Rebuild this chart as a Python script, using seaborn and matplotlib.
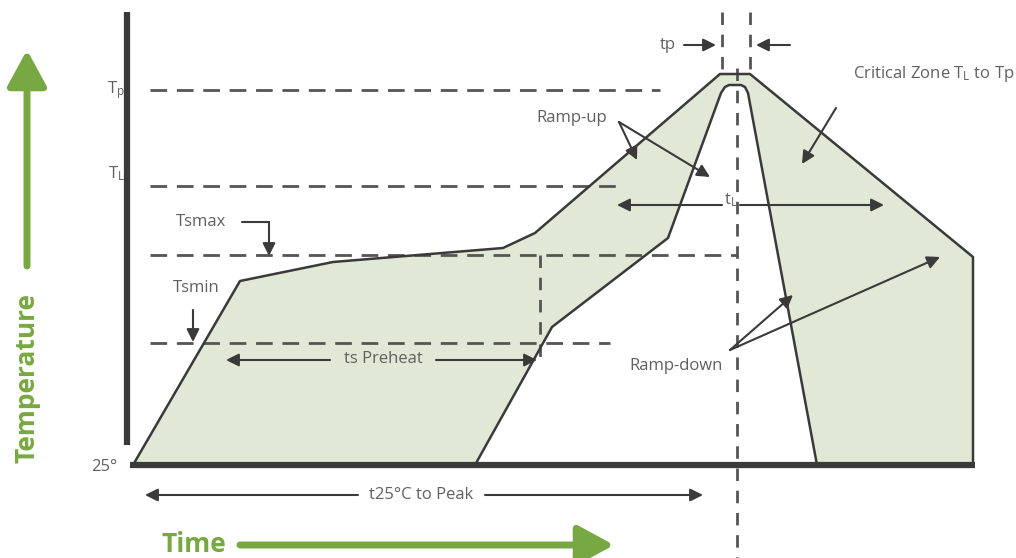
import matplotlib
matplotlib.use("Agg")
import matplotlib.pyplot as plt
import seaborn as sns

# reflow profile (time / temperature in drawing units)
outer_time = [133, 240, 333, 503, 535, 720, 750, 973, 973]
outer_temp = [93, 277, 296, 310, 325, 484, 484, 301, 93]
inner_time = [475, 552, 668, 721, 725, 729, 741, 745, 748, 817]
inner_temp = [93, 231, 320, 465, 471, 473, 473, 471, 465, 93]

# temperature levels
T_25 = 93
T_smin = 215
T_smax = 303
T_L = 372
T_p = 468

# time marks
t_preheat_end = 540
t_peak = 737
tp_left, tp_right = 722, 750

green = "#78a841"
fill_col = "#e1e8d6"
dark = "#3a3a3a"
dash_col = "#555555"
txt = "#606060"

sns.set_theme(style="white")
plt.rcParams["font.family"] = ["Open Sans", "DejaVu Sans"]

fig = plt.figure(figsize=(10.16, 5.58), dpi=100)
ax = fig.add_axes([0, 0, 1, 1])
ax.set_xlim(0, 1016)
ax.set_ylim(0, 558)
ax.set_axis_off()

# shaded zone
ax.fill(outer_time, outer_temp, color=fill_col, zorder=1)
ax.fill(inner_time, inner_temp, color="white", zorder=2)

sns.lineplot(x=outer_time, y=outer_temp, sort=False, estimator=None, color=dark, lw=1.8, ax=ax, zorder=4)
sns.lineplot(x=inner_time, y=inner_temp, sort=False, estimator=None, color=dark, lw=1.8, ax=ax, zorder=4)

# axes bars
ax.plot([127, 127], [113, 546], color=dark, lw=4.5, solid_capstyle="butt", zorder=5)
ax.plot([130, 975], [T_25, T_25], color=dark, lw=4.5, solid_capstyle="butt", zorder=5)

# dashed guide lines
dkw = dict(color=dash_col, lw=2, dashes=(6, 3.5), zorder=3)
ax.plot([150, 660], [T_p, T_p], **dkw)
ax.plot([150, 620], [T_L, T_L], **dkw)
ax.plot([150, t_peak], [T_smax, T_smax], **dkw)
ax.plot([150, 610], [T_smin, T_smin], **dkw)
vkw = dict(color=dash_col, lw=2, dashes=(4.5, 3.5), zorder=3)
ax.plot([t_preheat_end, t_preheat_end], [T_smax, 195], **vkw)
ax.plot([t_peak, t_peak], [490, 0], **vkw)
ax.plot([tp_left, tp_left], [546, 486], **vkw)
ax.plot([tp_right, tp_right], [546, 486], **vkw)

arr = dict(arrowstyle="-|>", color=dark, lw=1.5, mutation_scale=19, shrinkA=0, shrinkB=0)

def arrow(x0, y0, x1, y1):
    ax.annotate("", xy=(x1, y1), xytext=(x0, y0), arrowprops=arr, zorder=6)

tk = dict(color=txt, fontsize=12, zorder=7)

# level labels
ax.text(125, 468, r"T$\mathregular{_p}$", ha="right", va="center", **tk)
ax.text(125, 384, r"T$\mathregular{_L}$", ha="right", va="center", **tk)
ax.text(117, 91, "25°", ha="right", va="center", **tk)

# tp
ax.text(668, 513, "tp", ha="center", va="center", **tk)
arrow(684, 513, 716, 513)
arrow(790, 513, 756, 513)

# critical zone
ax.text(853, 484, r"Critical Zone T$\mathregular{_L}$ to Tp", ha="left", va="center", **tk)
arrow(836, 450, 802, 394)

# ramp-up
ax.text(572, 440, "Ramp-up", ha="center", va="center", **tk)
arrow(619, 436, 637, 398)
arrow(619, 436, 710, 381)

# tL
ax.text(731, 358, r"t$\mathregular{_L}$", ha="center", va="center", **tk)
arrow(722, 353, 617, 353)
arrow(740, 353, 884, 353)

# ramp-down
ax.text(676, 192, "Ramp-down", ha="center", va="center", **tk)
arrow(730, 208, 793, 263)
arrow(730, 208, 940, 301)

# Tsmax / Tsmin
ax.text(201, 336, "Tsmax", ha="center", va="center", **tk)
ax.plot([242, 269], [336, 336], color=dark, lw=1.5, zorder=6)
arrow(269, 336, 269, 302)
ax.text(196, 270, "Tsmin", ha="center", va="center", **tk)
arrow(193, 248, 193, 216)

# preheat
ax.text(383, 199, "ts Preheat", ha="center", va="center", **tk)
arrow(330, 198, 226, 198)
arrow(436, 198, 537, 198)

# t25 to peak
ax.text(421, 63, "t25°C to Peak", ha="center", va="center", **tk)
arrow(358, 63, 145, 63)
arrow(485, 63, 703, 63)

# axis titles
ax.text(194, 13, "Time", color=green, fontsize=19, fontweight="bold", ha="center", va="center")
ax.annotate("", xy=(614, 13), xytext=(240, 13),
            arrowprops=dict(arrowstyle="-|>,head_length=1.1,head_width=0.6", color=green, lw=5,
                            mutation_scale=20, shrinkA=0, shrinkB=0))
ax.text(27, 180, "Temperature", color=green, fontsize=19, fontweight="bold", rotation=90,
        ha="center", va="center")
ax.annotate("", xy=(27, 508), xytext=(27, 292),
            arrowprops=dict(arrowstyle="-|>,head_length=1.1,head_width=0.6", color=green, lw=5,
                            mutation_scale=20, shrinkA=0, shrinkB=0))

fig.savefig("out.png", dpi=100)
